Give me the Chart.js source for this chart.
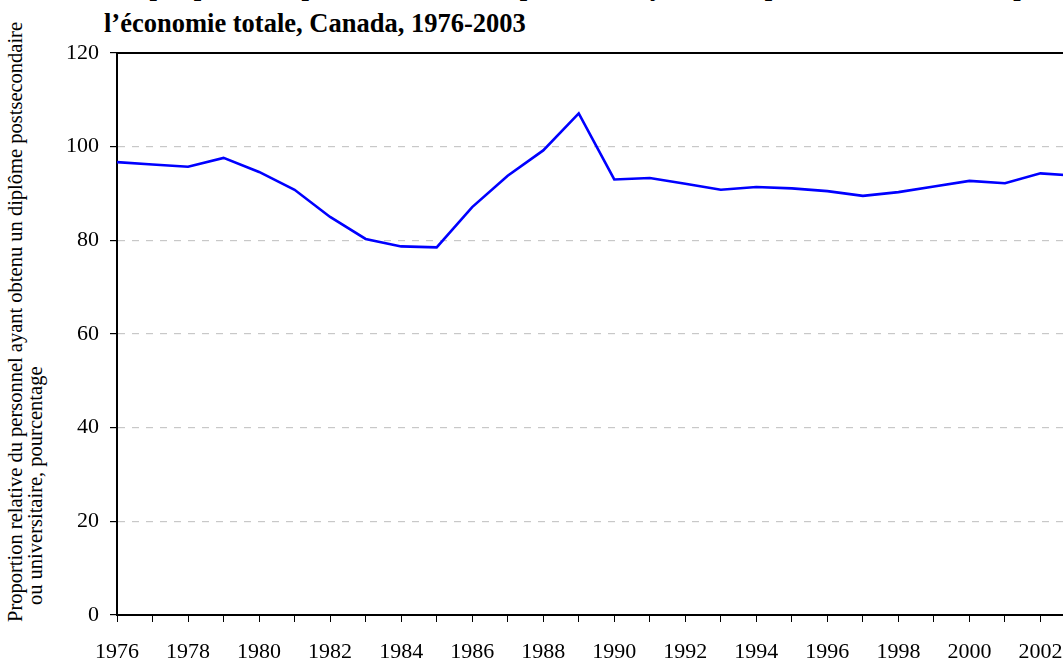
<!DOCTYPE html>
<html lang="fr">
<head>
  <meta charset="UTF-8" />
  <title>Proportion relative du personnel diplômé, Canada, 1976-2003</title>
  <style>
    body { margin: 0; background: #fff; overflow: hidden; width: 1063px; height: 664px; position: relative; }
    #title { position: absolute; left: 104px; top: -32px; white-space: nowrap;
      font: bold 26.5px "Liberation Serif", "Times New Roman", serif; line-height: 37px; color: #000; }
    #ytitle { position: absolute; left: 0; top: 622px; width: 610px; white-space: nowrap;
      transform-origin: 0 0; transform: rotate(-90deg); padding-top: 5px;
      font: 20.5px "Liberation Serif", "Times New Roman", serif; line-height: 20px; color: #000; }
    #ytitle span { display: block; }
    #ytitle span.l2 { margin-left: 17px; }
    #wrap { position: absolute; left: 0; top: 0; width: 1110px; height: 664px; }
  </style>
</head>
<body>
  <div id="title">Graphique 3&nbsp;&nbsp;Proportion relative du personnel ayant un diplôme dans le secteur par rapport à<br>l’économie totale, Canada, 1976-2003</div>
  <div id="ytitle"><span>Proportion relative du personnel ayant obtenu un diplôme postsecondaire</span><span class="l2">ou universitaire, pourcentage</span></div>
  <div id="wrap"><canvas id="chart"></canvas></div>

  <script src="https://cdn.jsdelivr.net/npm/chart.js@4.4.1/dist/chart.umd.min.js"></script>
  <script>
    const years = ['1976', '1977', '1978', '1979', '1980', '1981', '1982', '1983', '1984', '1985',
      '1986', '1987', '1988', '1989', '1990', '1991', '1992', '1993', '1994', '1995',
      '1996', '1997', '1998', '1999', '2000', '2001', '2002', '2003'];
    const proportion = [96.7, 96.2, 95.7, 97.6, 94.6, 90.8, 85.0, 80.3, 78.7, 78.5,
      87.1, 93.8, 99.2, 107.1, 93.0, 93.3, 92.1, 90.8, 91.4, 91.1,
      90.5, 89.5, 90.3, 91.5, 92.7, 92.2, 94.3, 93.8];
    const yMin = 0, yMax = 120, yStep = 20;

    const serif = '"Liberation Serif", "Times New Roman", serif';

    // ligne pleine en haut du cadre
    const topBorder = {
      id: 'topBorder',
      afterDraw(chart) {
        const { ctx, chartArea } = chart;
        ctx.save();
        ctx.strokeStyle = '#000';
        ctx.lineWidth = 2;
        ctx.beginPath();
        ctx.moveTo(chartArea.left, chartArea.top);
        ctx.lineTo(chartArea.right, chartArea.top);
        ctx.stroke();
        ctx.restore();
      }
    };

    new Chart(document.getElementById('chart'), {
      type: 'line',
      data: {
        labels: years,
        datasets: [{
          data: proportion,
          borderColor: '#0000ff',
          borderWidth: 2.6,
          pointRadius: 0,
          tension: 0,
          fill: false
        }]
      },
      options: {
        responsive: true,
        maintainAspectRatio: false,
        animation: false,
        layout: { padding: { top: 53, right: 34, left: 0, bottom: 0 } },
        plugins: { legend: { display: false }, tooltip: { enabled: false }, title: { display: false } },
        scales: {
          x: {
            offset: false,
            afterFit: s => { s.height = 49; },
            border: { color: '#000', width: 2 },
            grid: { drawOnChartArea: false, drawTicks: true, tickLength: 7, tickColor: '#000' },
            ticks: {
              autoSkip: false, maxRotation: 0, padding: 17, color: '#000',
              font: { family: serif, size: 22 },
              callback: (v, i) => (i % 2 === 0 ? years[i] : '')
            }
          },
          y: {
            min: yMin, max: yMax,
            afterFit: s => { s.width = 117; },
            border: { color: '#000', width: 2, dash: [7, 7] },
            grid: {
              color: c => (c.tick.value === yMin || c.tick.value === yMax ? 'rgba(0,0,0,0)' : '#c8c8c8'),
              lineWidth: 1.2,
              tickLength: 7, tickColor: '#000', tickBorderDash: []
            },
            ticks: { stepSize: yStep, padding: 11, color: '#000', font: { family: serif, size: 22 } }
          }
        }
      },
      plugins: [topBorder]
    });
  </script>
</body>
</html>
